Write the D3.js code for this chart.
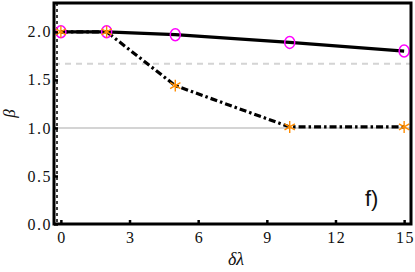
<!DOCTYPE html>
<html>
<head>
<meta charset="utf-8">
<script src="https://cdn.jsdelivr.net/npm/d3@7"></script>
<style>
  body { margin: 0; background: #fff; }
  text { font-family: "Liberation Serif", "DejaVu Serif", serif; fill: #111; }
</style>
</head>
<body>
<div id="chart-div"></div>
<script>
// Script globals
const CHART_WIDTH = 415
const CHART_HEIGHT = 272

// data
const dLambda = [0, 2, 5, 10, 15]
const betaSolid = [2.0, 2.0, 1.97, 1.89, 1.80]
const betaDashed = [2.0, 2.0, 1.44, 1.01, 1.01]
const refLines = [5 / 3, 1.0]
const xTicks = [0, 3, 6, 9, 12, 15]
const yTicks = [0.0, 0.5, 1.0, 1.5, 2.0]

init();

function init () {
  const svg = d3.select("#chart-div").append("svg")
    .attr("width", CHART_WIDTH)
    .attr("height", CHART_HEIGHT)

  const marginLeft = 54, marginRight = 4, marginTop = 3, marginBottom = 48

  const x = d3.scaleLinear()
    .domain([-0.3, 15.3])
    .range([marginLeft, CHART_WIDTH - marginRight])
  const y = d3.scaleLinear()
    .domain([0, 2.3])
    .range([CHART_HEIGHT - marginBottom, marginTop])

  // gray reference lines
  svg.append("line")
    .attr("x1", x(-0.3)).attr("x2", x(15.3))
    .attr("y1", y(refLines[0])).attr("y2", y(refLines[0]))
    .attr("stroke", "#d4d4d4").attr("stroke-width", 2)
    .attr("stroke-dasharray", "6,5")
  svg.append("line")
    .attr("x1", x(-0.3)).attr("x2", x(15.3))
    .attr("y1", y(refLines[1])).attr("y2", y(refLines[1]))
    .attr("stroke", "#d4d4d4").attr("stroke-width", 2)

  // dashed vertical line hugging the left frame
  svg.append("line")
    .attr("x1", x(-0.3) + 3).attr("x2", x(-0.3) + 3)
    .attr("y1", y(2.3)).attr("y2", y(0))
    .attr("stroke", "#000").attr("stroke-width", 1.5)
    .attr("stroke-dasharray", "3,3")

  const solid = dLambda.map((d, i) => ({ x: d, y: betaSolid[i] }))
  const dashed = dLambda.map((d, i) => ({ x: d, y: betaDashed[i] }))
  const line = d3.line().x(d => x(d.x)).y(d => y(d.y))

  svg.append("path").datum(solid)
    .attr("d", line)
    .attr("fill", "none").attr("stroke", "#000").attr("stroke-width", 3.2)
  svg.append("path").datum(dashed)
    .attr("d", line)
    .attr("fill", "none").attr("stroke", "#000").attr("stroke-width", 3.2)
    .attr("stroke-dasharray", "7,3,2.5,3")

  // circle markers
  svg.selectAll("ellipse.solid").data(solid).enter().append("ellipse")
    .attr("class", "solid")
    .attr("cx", d => x(d.x)).attr("cy", d => y(d.y))
    .attr("rx", 5).attr("ry", 6)
    .attr("fill", "none").attr("stroke", "#ff00ff").attr("stroke-width", 1.5)

  // asterisk markers
  const star = d3.symbol().type(d3.symbolAsterisk).size(100)
  svg.selectAll("path.star").data(dashed).enter().append("path")
    .attr("class", "star")
    .attr("transform", d => `translate(${x(d.x)},${y(d.y)})`)
    .attr("d", star)
    .attr("fill", "none").attr("stroke", "#ff8c00").attr("stroke-width", 1.4)

  // frame
  svg.append("rect")
    .attr("x", x(-0.3)).attr("y", y(2.3))
    .attr("width", x(15.3) - x(-0.3)).attr("height", y(0) - y(2.3))
    .attr("fill", "none").attr("stroke", "#000").attr("stroke-width", 3)

  // axes with inward ticks
  const xAxis = svg.append("g")
    .attr("transform", `translate(0,${y(0)})`)
    .call(d3.axisBottom(x).tickValues(xTicks).tickSizeInner(-4).tickSizeOuter(0).tickPadding(8))
  const yAxis = svg.append("g")
    .attr("transform", `translate(${x(-0.3)},0)`)
    .call(d3.axisLeft(y).tickValues(yTicks).tickFormat(d3.format(".1f")).tickSizeInner(-4).tickSizeOuter(0).tickPadding(2))
  for (const g of [xAxis, yAxis]) {
    g.select(".domain").remove()
    g.selectAll(".tick line").attr("stroke", "#000").attr("stroke-width", 2.5)
    g.selectAll(".tick text")
      .style("font-family", "'Liberation Serif', serif")
      .style("font-size", "16px")
      .style("letter-spacing", "1.5px")
      .attr("fill", "#111")
  }
  xAxis.selectAll(".tick text").attr("dx", "0.75px")

  // axis titles
  svg.append("text")
    .attr("x", 236).attr("y", 265)
    .attr("text-anchor", "middle")
    .style("font-size", "18px").style("font-style", "italic")
    .text("δλ")
  svg.append("text")
    .attr("x", 11).attr("y", y(1.15))
    .attr("text-anchor", "middle").attr("dominant-baseline", "middle")
    .attr("transform", `rotate(-90,11,${y(1.15)})`)
    .style("font-size", "17px").style("font-style", "italic")
    .text("β")

  // panel label
  svg.append("text")
    .attr("x", 365).attr("y", 206)
    .style("font-family", "'Liberation Sans', Arial, sans-serif")
    .style("font-size", "22px")
    .text("f)")
}
</script>
</body>
</html>
